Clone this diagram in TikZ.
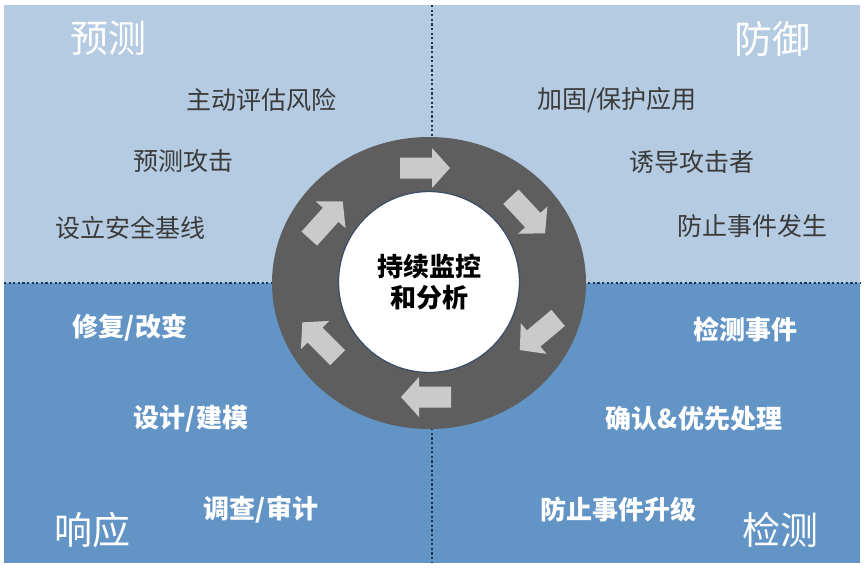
\documentclass[tikz,border=0pt]{standalone}
\usepackage{fontspec}
\setmainfont{Noto Sans CJK SC}
\usetikzlibrary{shapes.geometric}
\definecolor{topblue}{RGB}{180,203,226}
\definecolor{lowblue}{RGB}{98,148,198}
\definecolor{navy}{RGB}{28,52,88}
\definecolor{ringgray}{RGB}{94,94,94}
\definecolor{arrowgray}{RGB}{202,202,202}
\definecolor{hubedge}{RGB}{62,78,102}
\definecolor{textgray}{RGB}{58,58,58}
\begin{document}
\begin{tikzpicture}[x=1pt,y=-1pt,
  every node/.style={inner sep=0pt, align=center},
  title/.style={text=white, font=\fontsize{38}{42}\selectfont},
  upitem/.style={text=textgray, font=\fontsize{25}{30}\selectfont},
  lowitem/.style={text=white, font=\bfseries\fontsize{26}{30}\selectfont},
  divider/.style={draw=navy, line width=2.2pt, dash pattern=on 2.2pt off 2.4pt},
  cyclearrow/.style={fill=arrowgray, draw=none},
]
\useasboundingbox (0,0) rectangle (865,568);
\fill[white] (0,0) rectangle (865,568);

% quadrant backgrounds
\fill[topblue] (4,5) rectangle (860,283);
\fill[lowblue] (4,283) rectangle (860,563);

% dotted dividers
\coordinate (L) at (4,283);
\coordinate (R) at (860,283);
\coordinate (T) at (432,5);
\coordinate (B) at (432,563);
\draw[divider] (L) -- (R);
\draw[divider] (T) -- (B);

% monitoring ring
\node (ring) [ellipse, fill=ringgray, minimum width=314pt, minimum height=292pt] at (429,283) {};

% cycle arrows around the ring
\foreach \px/\py/\ang in {425/168/0, 528/215/-47, 539/334/-140, 426/397/180, 320/340/135, 326/220/48}
  \fill[cyclearrow, shift={(\px,\py)}, rotate=\ang]
    (-25,-10.5) -- (7,-10.5) -- (7,-20) -- (25,0) -- (7,20) -- (7,10.5) -- (-25,10.5) -- cycle;

% hub
\node (hub) [circle, fill=white, draw=hubedge, line width=1.3pt, minimum size=181pt,
  font=\bfseries\fontsize{26}{31}\selectfont, text=black] at (429,282) {持续监控\\和分析};

% quadrant titles
\node (t1) [title] at (108,38) {预测};
\node (t2) [title] at (772,39) {防御};
\node (t3) [title] at (92,530) {响应};
\node (t4) [title] at (780,530) {检测};

% predict
\node (p1) [upitem] at (261,100) {主动评估风险};
\node (p2) [upitem] at (183,161) {预测攻击};
\node (p3) [upitem] at (130,228) {设立安全基线};

% defend
\node (d1) [upitem] at (617,100) {加固/保护应用};
\node (d2) [upitem] at (692,162) {诱导攻击者};
\node (d3) [upitem] at (752,226) {防止事件发生};

% respond
\node (r1) [lowitem] at (130,328) {修复/改变};
\node (r2) [lowitem] at (191,419) {设计/建模};
\node (r3) [lowitem] at (261,510) {调查/审计};

% detect
\node (e1) [lowitem] at (745,329) {检测事件};
\node (e2) [lowitem] at (694,419) {确认\&优先处理};
\node (e3) [lowitem] at (618,510) {防止事件升级};
\end{tikzpicture}
\end{document}
